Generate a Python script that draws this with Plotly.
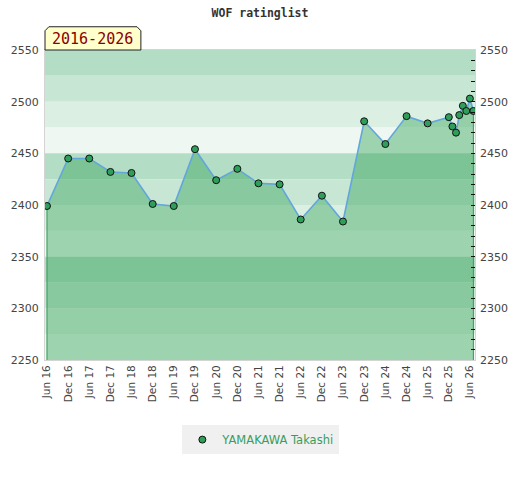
import plotly.graph_objects as go

# rating history
dates = ["2016-06-01", "2016-12-01", "2017-06-01", "2017-12-01", "2018-06-01",
         "2018-12-01", "2019-06-01", "2019-12-01", "2020-06-01", "2020-12-01",
         "2021-06-01", "2021-12-01", "2022-06-01", "2022-12-01", "2023-06-01",
         "2023-12-01", "2024-06-01", "2024-12-01", "2025-06-01", "2025-12-01",
         "2026-01-01", "2026-02-01", "2026-03-01", "2026-04-01", "2026-05-01",
         "2026-06-01", "2026-07-01"]
ratings = [2399, 2445, 2445, 2432, 2431, 2401, 2399, 2454, 2424, 2435,
           2421, 2420, 2386, 2409, 2384, 2481, 2459, 2486, 2479, 2485,
           2476, 2470, 2487, 2496, 2491, 2503, 2491]
player = "YAMAKAWA Takashi"
period = "2016-2026"

Y_MIN, Y_MAX = 2250, 2550
band_colors = ["#b3ddc4", "#c8e6d4", "#dcefe3", "#eef7f1"]  # from top, repeats every 100

fig = go.Figure()

# background bands
for i, top in enumerate(range(Y_MAX, Y_MIN, -25)):
    fig.add_shape(type="rect", xref="paper", yref="y", x0=0, x1=1,
                  y0=top - 25, y1=top, fillcolor=band_colors[i % 4],
                  line_width=0, layer="below")

fig.add_trace(go.Scatter(x=dates, y=ratings, mode="lines", fill="tozeroy",
                         fillcolor="rgba(47,163,86,0.42)", line=dict(width=0),
                         showlegend=False, hoverinfo="skip"))
# edges of the filled area
for d, r in [(dates[0], ratings[0]), (dates[-1], ratings[-1])]:
    fig.add_trace(go.Scatter(x=[d, d], y=[Y_MIN, r], mode="lines",
                             line=dict(color="#2e9a55", width=1),
                             showlegend=False, hoverinfo="skip"))
fig.add_trace(go.Scatter(x=dates, y=ratings, mode="lines",
                         line=dict(color="#62a6dc", width=1.6),
                         showlegend=False))
fig.add_trace(go.Scatter(x=dates, y=ratings, mode="markers", name=player,
                         marker=dict(size=7, color="#2f9e5b",
                                     line=dict(color="#111111", width=1))))
# right axis copy
fig.add_trace(go.Scatter(x=[dates[0]], y=[ratings[0]], yaxis="y2", mode="markers",
                         marker=dict(opacity=0), showlegend=False, hoverinfo="skip"))

# year range label with bevelled box
fig.add_shape(type="path", xref="paper", yref="paper",
              path="M 0,1 L 0,1.062 L 0.009,1.075 L 0.214,1.075 L 0.223,1.062 L 0.223,1 Z",
              fillcolor="#ffffcc", line=dict(color="#222222", width=1), layer="above")
fig.add_annotation(xref="paper", yref="paper", x=0.111, y=1.037, text=period,
                   xanchor="center", yanchor="middle", showarrow=False,
                   font=dict(family="DejaVu Sans Mono", size=15, color="#8b0000"))

tick_font = dict(family="DejaVu Sans", size=11, color="#444444")
fig.update_layout(
    width=520, height=480,
    margin=dict(l=45, r=45, t=50, b=120, autoexpand=False),
    paper_bgcolor="white", plot_bgcolor="white",
    title=dict(text="<b>WOF ratinglist</b>", x=0.5, xanchor="center",
               y=1 - 13 / 480, yanchor="middle",
               font=dict(family="DejaVu Sans Mono", size=11.5, color="#333333")),
    xaxis=dict(type="date", range=["2016-05-15", "2026-07-15"],
               tick0="2016-06-01", dtick="M6", tickformat="%b %y", tickangle=-90,
               tickfont=dict(family="DejaVu Sans", size=10.5, color="#444444"),
               showgrid=False, showline=True, linecolor="#d4d4d4", mirror=True,
               ticks="", zeroline=False, automargin=False),
    yaxis=dict(range=[Y_MIN, Y_MAX], dtick=50, tickfont=tick_font, showgrid=False,
               showline=True, linecolor="#d4d4d4", mirror=True, zeroline=False,
               ticks="", automargin=False, ticklabelstandoff=3),
    yaxis2=dict(range=[Y_MIN, Y_MAX], dtick=50, overlaying="y", side="right",
                tickfont=tick_font, showgrid=False, zeroline=False, automargin=False,
                ticks="inside", ticklen=4, tickcolor="#111111", ticklabelstandoff=4,
                minor=dict(dtick=10, ticks="inside", ticklen=4, tickcolor="#111111")),
    legend=dict(orientation="h", x=0.502, xanchor="center", y=-0.21, yanchor="top",
                itemwidth=30, bgcolor="#f0f0f0",
                font=dict(family="DejaVu Sans", size=11.5, color="#3a9d5d")),
    showlegend=True,
)

# drop the page's default body margin so the figure sits at the window corner
fig.write_html("out.html", config={"displayModeBar": False},
               post_script="document.body.style.margin = '0';")
